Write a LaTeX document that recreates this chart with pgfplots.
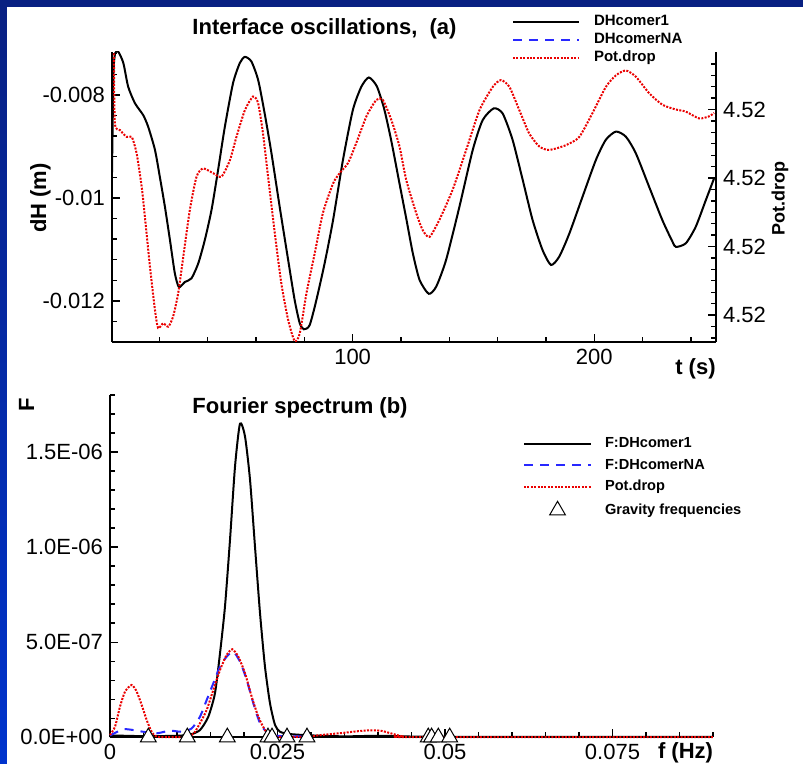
\documentclass[border=0pt]{standalone}
\usepackage{fontspec}
\setmainfont{Liberation Sans}
\setsansfont{Liberation Sans}
\usepackage{pgfplots}
\pgfplotsset{compat=1.18}
\definecolor{navyA}{RGB}{8,32,130}
\definecolor{navyB}{RGB}{0,52,205}
\definecolor{curveblue}{RGB}{40,40,255}
\definecolor{curvered}{RGB}{235,0,0}
\pgfplotsset{
  myax/.style={
    scale only axis,
    axis line style={line width=1pt},
    every tick/.style={line width=0.7pt,black},
    tick align=inside,
    major tick length=4pt,
    minor tick length=2.5pt,
    tick label style={font=\fontsize{11}{13}\selectfont},
    scaled x ticks=false, scaled y ticks=false,
  },
  blackline/.style={black, line width=1pt},
  blueline/.style={curveblue, line width=1pt, dash pattern=on 4.5pt off 3.5pt},
  redline/.style={curvered, line width=1pt, dash pattern=on 1pt off 0.7pt},
  linelegA/.style={legend image code/.code={\draw[##1] (0pt,0pt) -- (33pt,0pt); \path (40pt,0pt);}},
  linelegB/.style={legend image code/.code={\draw[##1] (0pt,0pt) -- (33.5pt,0pt); \path (40pt,0pt);}},
  trileg/.style={legend image code/.code={\draw[mark repeat=2,mark phase=2,##1] plot coordinates {(0pt,0pt) (16.75pt,0pt) (33.5pt,0pt)}; \path (0pt,0pt) (40pt,0pt);}},
}
\begin{document}
\begin{tikzpicture}
\useasboundingbox (0,0) rectangle (401.5pt,382pt);
\fill[white] (0,0) rectangle (401.5pt,382pt);
\shade[top color=navyA,bottom color=navyB] (0,0) rectangle (3.4pt,382pt);
\fill[navyA] (0,378.6pt) rectangle (401.5pt,382pt);

% ---------- (a) left axis ----------
\begin{axis}[myax, at={(56pt,211pt)}, anchor=south west, width=302pt, height=145pt,
  axis x line*=bottom, axis y line*=left,
  xmin=0.4, xmax=250.4, ymin=-0.012796, ymax=-0.007165,
  xtick={100,200}, xticklabels={100,200},
  minor xtick={20,40,60,80,120,140,160,180,220,240},
  ytick={-0.012,-0.01,-0.008}, yticklabels={-0.012,-0.01,-0.008},
  minor ytick={-0.0124,-0.0116,-0.0112,-0.0108,-0.0104,-0.0096,-0.0092,-0.0088,-0.0084,-0.0076,-0.0072},
  legend style={draw=none, fill=none, at={(axis description cs:0.6623,1.1286)}, anchor=north west,
    font=\fontsize{7.5}{9}\selectfont\bfseries, inner sep=0pt, outer sep=0pt, row sep=1.9pt,
    nodes={inner sep=0pt, text height=5.5pt, text depth=1.6pt}},
  legend cell align=left,
  linelegA,
]
\addplot[blackline, smooth, tension=0.4] coordinates {
(0.4,-0.0095) (1.0,-0.0076) (1.7,-0.00719) (3.0,-0.00716) (5.1,-0.00738) (7.1,-0.00784)
(9.9,-0.00816) (13.3,-0.00839) (15.4,-0.00862) (18.2,-0.00907) (20.2,-0.00959) (22.3,-0.01017)
(24.4,-0.01082) (26.4,-0.01146) (28.1,-0.01173) (30.6,-0.01163) (33.3,-0.01156) (36.1,-0.01127)
(38.8,-0.01082) (41.6,-0.01023) (44.3,-0.00946) (47.1,-0.00862) (50.5,-0.00777) (53.3,-0.00738)
(55.4,-0.00726) (58.1,-0.00735) (60.9,-0.00771) (63.6,-0.00836) (66.4,-0.00913) (69.8,-0.01017)
(73.3,-0.0112) (76.0,-0.01198) (78.1,-0.01243) (79.8,-0.01255) (82.2,-0.01247) (85.0,-0.01198)
(88.4,-0.01127) (91.9,-0.01043) (96.0,-0.00926) (100.1,-0.00829) (103.6,-0.00784) (106.7,-0.00766)
(110.0,-0.00783) (113.0,-0.00826) (116.0,-0.00889) (119.4,-0.00972) (122.2,-0.0104) (124.9,-0.01107)
(127.7,-0.01159) (131.5,-0.01186) (134.6,-0.01172) (138.7,-0.0112) (144.2,-0.01017) (149.7,-0.00907)
(153.8,-0.00849) (158.4,-0.00826) (162.1,-0.00836) (166.2,-0.00887) (170.4,-0.00965) (174.5,-0.01043)
(178.6,-0.01101) (182.1,-0.0113) (185.5,-0.01114) (189.7,-0.01069) (195.2,-0.00997) (200.7,-0.00926)
(204.8,-0.00887) (209.0,-0.00871) (213.1,-0.00881) (217.2,-0.00913) (222.7,-0.00978) (228.2,-0.01043)
(232.4,-0.01085) (233.8,-0.01095) (237.9,-0.01088) (242.0,-0.01056) (246.2,-0.01004) (249.6,-0.00962)
};
\addlegendentry{DHcomer1}
\addlegendimage{blueline}
\addlegendentry{DHcomerNA}
\addlegendimage{redline}
\addlegendentry{Pot.drop}
\end{axis}

% ---------- (a) right axis ----------
\begin{axis}[myax, at={(56pt,211pt)}, anchor=south west, width=302pt, height=145pt,
  axis x line=none, axis y line*=right,
  xmin=0.4, xmax=250.4, ymin=-0.4234, ymax=3.810,
  ytick={-0.03,0.97,1.97,2.97}, yticklabels={4.52,4.52,4.52,4.52},
  minor ytick={-0.3633,-0.1967,0.1367,0.3033,0.47,0.6367,0.8033,1.1367,1.3033,1.47,1.6367,1.8033,2.1367,2.3033,2.47,2.6367,2.8033,3.1367,3.3033,3.47,3.6367},
]
\addplot[redline, smooth, tension=0.4] coordinates {
(1.2,3.79) (1.6,2.77) (3.7,2.67) (6.5,2.57) (8.6,2.57) (10.6,2.33) (12.7,1.84) (14.0,1.41)
(16.1,0.68) (18.2,0.04) (19.5,-0.22) (21.6,-0.15) (23.7,-0.20) (25.7,-0.05) (27.8,0.29) (29.9,0.82)
(32.6,1.50) (35.4,1.99) (38.1,2.11) (42.3,2.04) (45.7,1.99) (49.2,2.23) (51.9,2.57) (55.4,2.96)
(58.8,3.16) (60.9,3.06) (62.9,2.62) (65.0,1.99) (67.8,1.16) (70.5,0.43) (73.3,-0.10) (76.0,-0.41)
(78.1,-0.30) (80.9,0.29) (84.3,0.87) (87.7,1.46) (91.9,1.89) (94.6,2.04) (98.1,2.19) (101.5,2.48)
(105.7,2.87) (109.8,3.11) (112.5,3.11) (116.0,2.82) (119.4,2.43) (122.2,1.94) (126.3,1.46) (129.0,1.21)
(131.8,1.11) (135.9,1.36) (141.4,1.80) (147.0,2.38) (152.5,2.96) (158.0,3.30) (161.4,3.40) (164.9,3.30)
(169.0,2.96) (173.1,2.62) (177.3,2.43) (181.4,2.38) (188.3,2.45) (193.8,2.57) (199.3,2.92) (204.8,3.30)
(209.0,3.47) (213.1,3.54) (217.2,3.45) (222.7,3.21) (228.2,3.04) (233.8,2.97) (237.9,2.94) (243.4,2.84)
(247.5,2.87) (249.6,2.92)
};
\end{axis}

% ---------- (b) spectrum ----------
\begin{axis}[myax, at={(55pt,13.35pt)}, anchor=south west, width=301.5pt, height=171.15pt,
  axis x line*=bottom, axis y line*=left, clip=false,
  xmin=0, xmax=0.09, ymin=0, ymax=1.8e-6,
  xtick={0,0.025,0.05,0.075}, xticklabels={0,0.025,0.05,0.075},
  minor xtick={0.005,0.01,0.015,0.02,0.03,0.035,0.04,0.045,0.055,0.06,0.065,0.07,0.08,0.085,0.09},
  ytick={0,5e-7,1e-6,1.5e-6}, yticklabels={0.0E+00,5.0E-07,1.0E-06,1.5E-06},
  minor ytick={1e-7,2e-7,3e-7,4e-7,6e-7,7e-7,8e-7,9e-7,1.1e-6,1.2e-6,1.3e-6,1.4e-6,1.6e-6,1.7e-6,1.8e-6},
  legend style={draw=none, fill=none, at={(axis description cs:0.685,0.877)}, anchor=north west,
    font=\fontsize{7.3}{9}\selectfont\bfseries, inner sep=0pt, outer sep=0pt, row sep=3.9pt,
    nodes={inner sep=0pt, text height=5.3pt, text depth=1.5pt}},
  legend cell align=left,
  linelegB,
]
\addplot[blackline, smooth, tension=0.4] coordinates {
(0,1e-8) (0.005,6e-9) (0.01,8e-9) (0.012,1.5e-8) (0.01343,3.8e-8) (0.01467,1.08e-7) (0.01567,2.32e-7)
(0.01642,4.42e-7) (0.01716,6.87e-7) (0.01791,1.038e-6) (0.01866,1.424e-6) (0.0194,1.649e-6)
(0.02015,1.582e-6) (0.0209,1.354e-6) (0.02164,1.003e-6) (0.02239,6.53e-7) (0.02313,3.72e-7)
(0.02388,1.79e-7) (0.02463,6.5e-8) (0.02537,2.9e-8) (0.02687,1.7e-8) (0.03,1e-8) (0.035,5e-9)
(0.04,8e-9) (0.045,4e-9) (0.05,3e-9) (0.06,2e-9) (0.09,2e-9)
};
\addlegendentry{F:DHcomer1}
\addplot[blueline, smooth, tension=0.4] coordinates {
(0,1e-8) (0.00199,4.2e-8) (0.00348,3.8e-8) (0.00497,2.9e-8) (0.00697,2.1e-8) (0.00895,3.5e-8)
(0.0107,2.9e-8) (0.0122,4.7e-8) (0.01343,1.08e-7) (0.01443,1.96e-7) (0.01542,2.84e-7) (0.01642,3.72e-7)
(0.01741,4.24e-7) (0.0184,4.5e-7) (0.0194,3.98e-7) (0.0204,3.02e-7) (0.02139,1.79e-7) (0.02239,7.4e-8)
(0.02338,2.9e-8) (0.025,8e-9) (0.028,5e-9) (0.03,1e-9)
};
\addlegendentry{F:DHcomerNA}
\addplot[redline, smooth, tension=0.4] coordinates {
(0,1.2e-8) (0.00075,5.6e-8) (0.00149,1.61e-7) (0.00224,2.4e-7) (0.00324,2.75e-7) (0.00398,2.4e-7)
(0.00473,1.7e-7) (0.00547,9.1e-8) (0.00622,2.9e-8) (0.00697,3e-9) (0.009,1e-9) (0.0115,2e-9)
(0.0125,2e-8) (0.01343,7.4e-8) (0.01443,1.44e-7) (0.01542,2.49e-7) (0.01642,3.54e-7) (0.01741,4.33e-7)
(0.01825,4.63e-7) (0.01915,4.24e-7) (0.02015,3.37e-7) (0.02114,2.14e-7) (0.02214,1.08e-7)
(0.02313,3.8e-8) (0.02388,1.2e-8) (0.025,2e-9) (0.0295,3e-9) (0.031,1e-8) (0.033,1.7e-8)
(0.035,2.4e-8) (0.037,3.2e-8) (0.039,3.7e-8) (0.0405,3.4e-8) (0.042,2e-8) (0.0435,6e-9)
(0.045,1e-9) (0.09,1e-9)
};
\addlegendentry{Pot.drop}
\addplot[only marks, mark=triangle*, mark size=4.55pt, mark options={fill=white, draw=black, line width=0.5pt}, trileg]
  coordinates {
(0.00572,0) (0.01154,0) (0.01751,0) (0.02358,0) (0.02418,0) (0.02642,0) (0.0294,0)
(0.0475,0) (0.0480,0) (0.0490,0) (0.0507,0)
};
\addlegendentry{Gravity frequencies}
\end{axis}

% ---------- titles and labels ----------
\node[anchor=base, font=\fontsize{11}{13}\selectfont\bfseries] at (162.25pt,364.5pt) {Interface oscillations,\ \ (a)};
\node[anchor=base, font=\fontsize{11}{13}\selectfont\bfseries] at (150pt,175.35pt) {Fourier spectrum (b)};
\node[anchor=base, rotate=90, font=\fontsize{11}{13}\selectfont\bfseries, inner sep=0pt] at (23pt,283pt) {dH (m)};
\node[anchor=base, rotate=90, font=\fontsize{9}{11}\selectfont\bfseries, inner sep=0pt] at (392.35pt,282.5pt) {Pot.drop};
\node[anchor=base east, font=\fontsize{11}{13}\selectfont\bfseries, inner sep=0pt] at (358pt,194.5pt) {t (s)};
\node[anchor=base east, font=\fontsize{11}{13}\selectfont\bfseries, inner sep=0pt] at (356.7pt,2.5pt) {f (Hz)};
\node[anchor=base, rotate=90, font=\fontsize{11}{13}\selectfont\bfseries, inner sep=0pt] at (17pt,179.5pt) {F};
\end{tikzpicture}
\end{document}
